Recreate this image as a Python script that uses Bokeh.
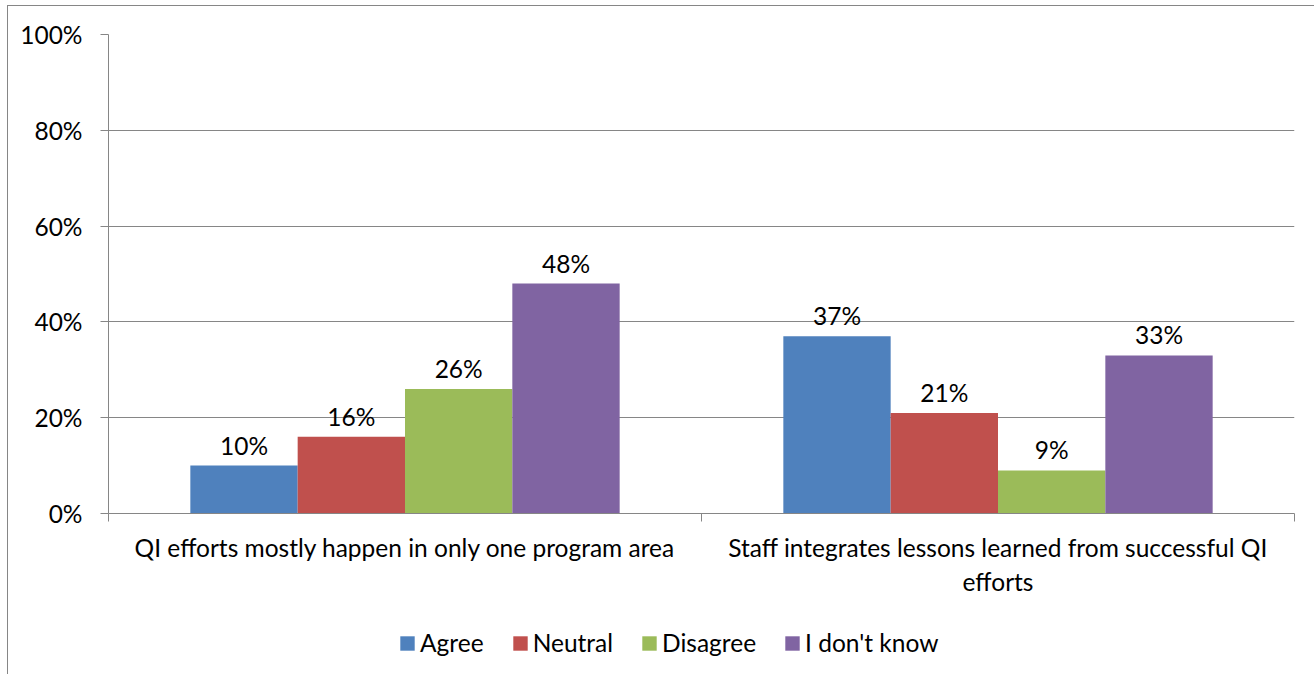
from bokeh.plotting import figure
from bokeh.layouts import column
from bokeh.models import ColumnDataSource, FixedTicker, Legend, LegendItem, PrintfTickFormatter, Range1d
from bokeh.core.properties import value
from bokeh.embed import file_html
from bokeh.resources import INLINE

# ---- data ----
categories = ["QI efforts mostly happen in only one program area",
              "Staff integrates lessons learned from successful QI efforts"]
category_labels = ["QI efforts mostly happen in only one program area",
                   "Staff integrates lessons learned from successful QI\nefforts"]
series = ["Agree", "Neutral", "Disagree", "I don't know"]
agree = [10, 37]
neutral = [16, 21]
disagree = [26, 9]
dont_know = [48, 33]
colors = ["#4F81BD", "#C0504D", "#9BBB59", "#8064A2"]
y_ticks = [0, 20, 40, 60, 80, 100]

FONT = "Lato"
FS = "24.5px"
GRAY = "#868686"

p = figure(width=1307, height=610,
           x_range=Range1d(0, len(categories)), y_range=Range1d(0, 100),
           output_backend="svg", toolbar_location=None,
           min_border_left=100, min_border_top=28, min_border_right=21,
           min_border_bottom=103)
p.outline_line_color = None
p.background_fill_color = "white"
p.border_fill_color = "white"

offsets = [-0.2715, -0.0905, 0.0905, 0.2715]
bar_w = 0.181
for s, vals, col, off in zip(series, [agree, neutral, disagree, dont_know], colors, offsets):
    xs = [i + 0.5 + off for i in range(len(categories))]
    src = ColumnDataSource(dict(x=xs, top=vals, label=[f"{v}%" for v in vals]))
    p.vbar(x="x", top="top", bottom=0, width=bar_w, source=src,
           fill_color=col, line_color=None)
    p.text(x="x", y="top", text="label", source=src, text_align="center",
           text_baseline="bottom", y_offset=-6, text_font=value(FONT),
           text_font_size=FS, text_color="black")

# y axis
p.xgrid.visible = False
p.yaxis.ticker = FixedTicker(ticks=y_ticks)
p.ygrid.ticker = FixedTicker(ticks=y_ticks)
p.ygrid.grid_line_color = GRAY
p.yaxis.formatter = PrintfTickFormatter(format="%d%%")
p.yaxis.axis_line_color = GRAY
p.yaxis.major_tick_line_color = GRAY
p.yaxis.major_tick_out = 8
p.yaxis.major_tick_in = 0
p.yaxis.minor_tick_line_color = None
p.yaxis.major_label_standoff = 18
p.yaxis.major_label_text_font = FONT
p.yaxis.major_label_text_font_size = FS
p.yaxis.major_label_text_color = "black"

# x axis
centers = [i + 0.5 for i in range(len(categories))]
bounds = [i for i in range(len(categories) + 1)]
p.xaxis.ticker = FixedTicker(ticks=centers, minor_ticks=bounds)
p.xaxis.major_label_overrides = {c: lab for c, lab in zip(centers, category_labels)}
p.xaxis.axis_line_color = GRAY
p.xaxis.major_tick_line_color = None
p.xaxis.major_tick_out = 0
p.xaxis.major_tick_in = 0
p.xaxis.minor_tick_line_color = GRAY
p.xaxis.minor_tick_out = 8
p.xaxis.minor_tick_in = 0
p.xaxis.major_label_standoff = 11
p.xaxis.major_label_text_font = FONT
p.xaxis.major_label_text_font_size = FS
p.xaxis.major_label_text_color = "black"

# legend strip below the chart (zero-height proxy bars only carry the colours)
lg = figure(width=1307, height=58, x_range=Range1d(0, 1), y_range=Range1d(0, 1),
            output_backend="svg", toolbar_location=None,
            x_axis_type=None, y_axis_type=None,
            min_border_left=0, min_border_right=0, min_border_top=0, min_border_bottom=0)
lg.outline_line_color = None
lg.grid.visible = False
lg.border_fill_color = "white"
items = []
for s, col in zip(series, colors):
    proxy = ColumnDataSource(dict(x=[0.5], top=[0]))
    r = lg.vbar(x="x", top="top", bottom=0, width=0.1, source=proxy,
                fill_color=col, line_color=None)
    items.append(LegendItem(label=s, renderers=[r]))
legend = Legend(items=items, orientation="horizontal", location=(290, 17),
                glyph_width=18, glyph_height=18, label_standoff=4, spacing=27,
                label_text_font=FONT, label_text_font_size=FS,
                label_text_color="black", border_line_color=None,
                background_fill_alpha=0, padding=0, margin=0)
lg.add_layout(legend, "center")

layout = column(p, lg, spacing=0, margin=(5, 0, 0, 7),
                styles={"border-left": f"1px solid {GRAY}", "border-top": f"1px solid {GRAY}"})

open("out.html", "w").write(file_html(layout, INLINE))
